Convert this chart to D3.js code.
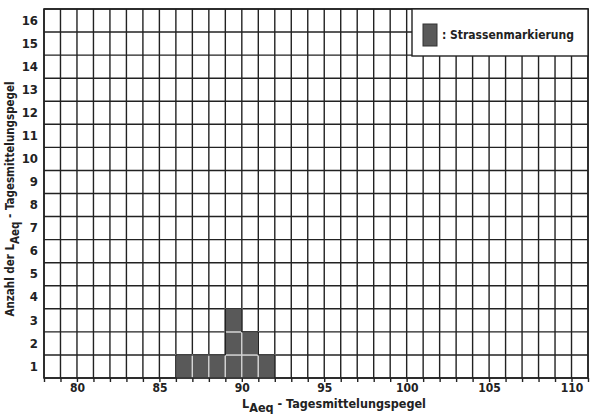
<!DOCTYPE html>
<html>
<head>
<meta charset="utf-8">
<script src="https://cdn.jsdelivr.net/npm/d3@7"></script>
<style>
  body { margin: 0; background: #fff; }
  svg { display: block; }
  text { font-family: "Liberation Sans Narrow", "DejaVu Sans Condensed", "Arial Narrow", sans-serif; font-weight: bold; fill: #222; }
  .axis path { display: none; }
  .axis line { stroke: #222; stroke-width: 1.4; }
</style>
</head>
<body>
<script>
//------------------------------ data ------------------------------
// bin start (dB) and number of measurements per 1 dB bin
const levels = [86, 87, 88, 89, 90, 91];
const counts = [1, 1, 1, 3, 2, 1];
const xTickLabels = [80, 85, 90, 95, 100, 105, 110];
const yCategories = d3.range(1, 17);
const seriesName = ": Strassenmarkierung";

//------------------------------ init ------------------------------
const width = 592,
    height = 414,
    plotLeft = 44,
    plotRight = 588,
    plotTop = 9,
    plotBottom = 378;

const xScale = d3.scaleLinear().domain([78, 111]).range([plotLeft, plotRight]);
const yScale = d3.scaleLinear().domain([0, 16]).range([plotBottom, plotTop]);
const yBand = d3.scaleBand().domain(yCategories).range([plotBottom, plotTop]);

const svg = d3.select("body").append("svg")
    .attr("width", width)
    .attr("height", height);

//------------------------------ grid ------------------------------
const grid = svg.append("g").attr("stroke", "#222").attr("stroke-width", 1.4);

grid.selectAll(".vx")
  .data(d3.range(78, 112))
  .enter().append("line")
  .attr("x1", d => xScale(d)).attr("x2", d => xScale(d))
  .attr("y1", plotTop).attr("y2", plotBottom);

grid.selectAll(".hy")
  .data(d3.range(0, 17))
  .enter().append("line")
  .attr("x1", plotLeft).attr("x2", plotRight)
  .attr("y1", d => yScale(d)).attr("y2", d => yScale(d));

//------------------------------ bars ------------------------------
const cells = [];
levels.forEach((lv, i) => {
  for (let j = 0; j < counts[i]; j++) cells.push({lv: lv, j: j, i: i});
});

const bars = svg.append("g");
bars.selectAll("rect")
  .data(cells)
  .enter().append("rect")
  .attr("x", d => xScale(d.lv))
  .attr("y", d => yScale(d.j + 1))
  .attr("width", d => xScale(d.lv + 1) - xScale(d.lv))
  .attr("height", d => yScale(d.j) - yScale(d.j + 1))
  .attr("fill", "#595959")
  .attr("stroke", "#d8d8d8")
  .attr("stroke-width", 1.2);

// dark outline where a cell has no neighbour
const edges = [];
cells.forEach(d => {
  const x0 = xScale(d.lv), x1 = xScale(d.lv + 1);
  const y0 = yScale(d.j), y1 = yScale(d.j + 1);
  const prev = d.i > 0 ? counts[d.i - 1] : 0;
  const next = d.i < counts.length - 1 ? counts[d.i + 1] : 0;
  if (prev < d.j + 1) edges.push([x0, y0, x0, y1]);
  if (next < d.j + 1) edges.push([x1, y0, x1, y1]);
  if (d.j + 1 === counts[d.i]) edges.push([x0, y1, x1, y1]);
});
bars.selectAll("line")
  .data(edges)
  .enter().append("line")
  .attr("x1", d => d[0]).attr("y1", d => d[1])
  .attr("x2", d => d[2]).attr("y2", d => d[3])
  .attr("stroke", "#222").attr("stroke-width", 1.4);

// frame
svg.append("rect")
  .attr("x", plotLeft).attr("y", plotTop)
  .attr("width", plotRight - plotLeft).attr("height", plotBottom - plotTop)
  .attr("fill", "none").attr("stroke", "#222").attr("stroke-width", 1.6);

//------------------------------ axes ------------------------------
const xAxis = d3.axisBottom(xScale)
  .tickValues(d3.range(78, 112))
  .tickSize(4)
  .tickPadding(1)
  .tickFormat(d => xTickLabels.includes(d) ? d : "");

svg.append("g")
  .attr("class", "axis")
  .attr("transform", `translate(0,${plotBottom})`)
  .call(xAxis)
  .selectAll("text").style("font-size", "12px");

const yAxis = d3.axisLeft(yBand).tickSize(0).tickPadding(5);
svg.append("g")
  .attr("class", "axis")
  .attr("transform", `translate(${plotLeft - 1},0)`)
  .call(yAxis)
  .selectAll("text").style("font-size", "13px");

//------------------------------ titles ------------------------------
const xt = svg.append("text")
  .attr("x", 334).attr("y", 407.5)
  .attr("text-anchor", "middle")
  .style("font-size", "12.5px");
xt.append("tspan").text("L");
xt.append("tspan").attr("dy", 4).text("Aeq");
xt.append("tspan").attr("dy", -4).text(" - Tagesmittelungspegel");

const yt = svg.append("text")
  .attr("transform", "translate(14,199) rotate(-90)")
  .attr("text-anchor", "middle")
  .style("font-size", "11.5px");
yt.append("tspan").text("Anzahl der L");
yt.append("tspan").attr("dy", 5).text("Aeq");
yt.append("tspan").attr("dy", -5).text(" - Tagesmittelungspegel");

//------------------------------ legend ------------------------------
const lg = svg.append("g");
lg.append("rect")
  .attr("x", 412).attr("y", plotTop)
  .attr("width", plotRight - 412).attr("height", 56 - plotTop)
  .attr("fill", "#fff").attr("stroke", "#222").attr("stroke-width", 1.4);
lg.append("rect")
  .attr("x", 423).attr("y", 24)
  .attr("width", 14).attr("height", 22)
  .attr("fill", "#595959").attr("stroke", "#333").attr("stroke-width", 1);
lg.append("text")
  .attr("x", 442).attr("y", 39)
  .style("font-size", "12px")
  .text(seriesName);
</script>
</body>
</html>
